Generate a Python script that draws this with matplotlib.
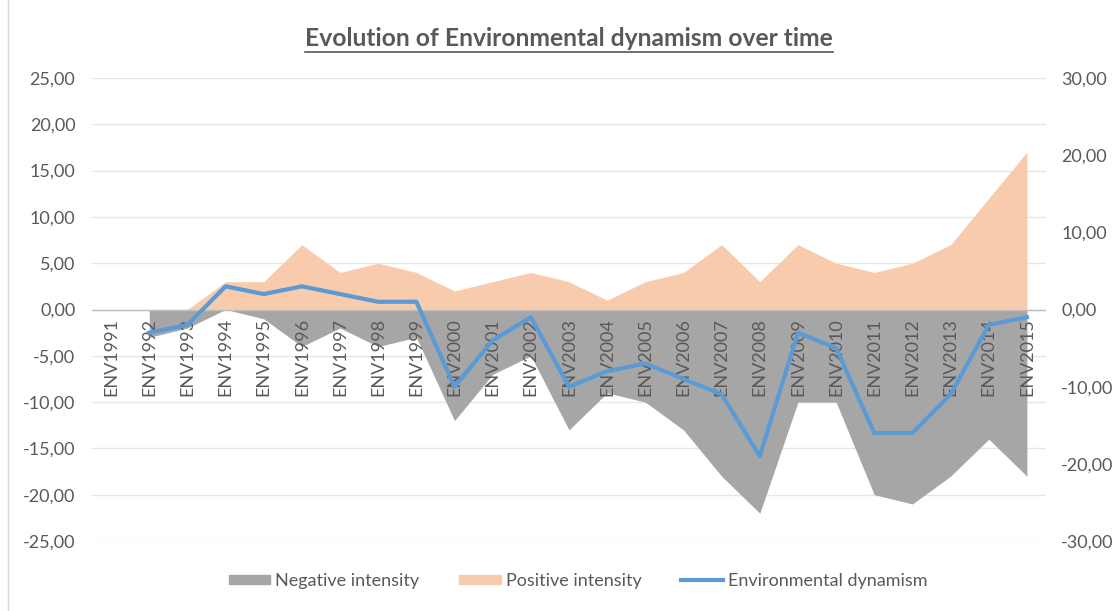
import numpy as np
import matplotlib
matplotlib.use('Agg')
import matplotlib.pyplot as plt
from matplotlib.patches import Patch
from matplotlib.lines import Line2D

plt.rcParams['font.family'] = ['Lato', 'DejaVu Sans']

# data (1991 is empty)
years = ['ENV%d' % y for y in range(1991, 2016)]
negative = [np.nan, -3, -2, 0, -1, -4, -2, -4, -3, -12, -7, -5, -13, -9, -10,
            -13, -18, -22, -10, -10, -20, -21, -18, -14, -18]
positive = [np.nan, 0, 0, 3, 3, 7, 4, 5, 4, 2, 3, 4, 3, 1, 3,
            4, 7, 3, 7, 5, 4, 5, 7, 12, 17]
dynamism = [np.nan, -3, -2, 3, 2, 3, 2, 1, 1, -10, -4, -1, -10, -8, -7,
            -9, -11, -19, -3, -5, -16, -16, -11, -2, -1]

GREY = '#A6A6A6'
ORANGE = '#F8CBAD'
BLUE = '#5B9BD5'
TXT = '#595959'

fig = plt.figure(figsize=(11.2, 6.11), dpi=100)
ax = fig.add_axes([92 / 1120, 1 - 541 / 611, (1046 - 92) / 1120, (541 - 78) / 611])
x = np.arange(len(years))

ax.fill_between(x, 0, np.array(negative, dtype=float), color=GREY, lw=0, zorder=2)
ax.fill_between(x, 0, np.array(positive, dtype=float), color=ORANGE, lw=0, zorder=2)

ax.set_xlim(-0.5, len(years) - 0.5)
ax.set_ylim(-25, 25)
ax.set_yticks(np.arange(-25, 26, 5))
ax.set_yticklabels([('%.2f' % v).replace('.', ',') for v in np.arange(-25, 26, 5)])
ax.tick_params(axis='y', length=0, pad=12, labelsize=13, labelcolor=TXT)
ax.set_xticks([])
ax.grid(True, axis='y', color='#E6E6E6', lw=1, zorder=0)
ax.axhline(0, color='#BFBFBF', lw=1, zorder=3)
for s in ax.spines.values():
    s.set_visible(False)

# secondary axis for the line, drawn above the areas
ax2 = ax.twinx()
ax2.plot(x, dynamism, color=BLUE, lw=3, solid_joinstyle='round', zorder=5)
ax2.set_ylim(-30, 30)
ax2.set_yticks(np.arange(-30, 31, 10))
ax2.set_yticklabels([('%.2f' % v).replace('.', ',') for v in np.arange(-30, 31, 10)])
ax2.tick_params(axis='y', length=0, pad=11, labelsize=13, labelcolor=TXT)
for s in ax2.spines.values():
    s.set_visible(False)

# category labels sit just under the zero line (0 is the same height on both axes)
for i, lab in enumerate(years):
    ax2.annotate(lab, (i, 0), xytext=(0, -6), textcoords='offset points',
                 rotation=90, ha='center', va='top', fontsize=13, color=TXT, zorder=4)

title = fig.text(569 / 1120, 1 - 38 / 611, 'Evolution of Environmental dynamism over time',
                 ha='center', va='center', fontsize=17.7, fontweight='bold', color=TXT)
fig.canvas.draw()
bb = title.get_window_extent(fig.canvas.get_renderer())
uy = 1 - 52 / 611
fig.add_artist(Line2D([bb.x0 / 1120, bb.x1 / 1120], [uy, uy], color=TXT, lw=1.2))

# chart border on the left
fig.add_artist(Line2D([8 / 1120, 8 / 1120], [0, 1], color='#D9D9D9', lw=1))

handles = [Patch(color=GREY), Patch(color=ORANGE), Line2D([], [], color=BLUE, lw=3)]
fig.legend(handles, ['Negative intensity', 'Positive intensity', 'Environmental dynamism'],
           loc='center', bbox_to_anchor=(578 / 1120, 1 - 581 / 611), ncol=3, frameon=False,
           fontsize=13, labelcolor=TXT, handlelength=2.3, handleheight=0.45,
           handletextpad=0.28, columnspacing=2.2)

fig.savefig('out.png', dpi=100)
